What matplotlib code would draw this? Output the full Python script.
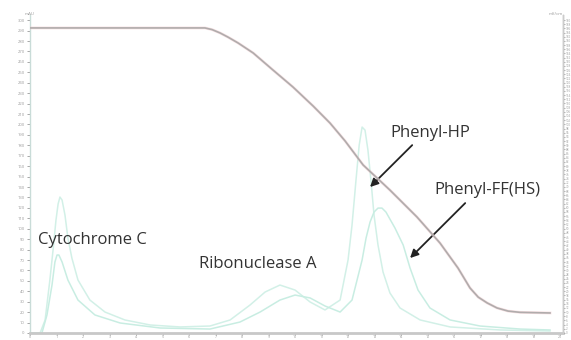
import matplotlib
matplotlib.use("Agg")
import matplotlib.pyplot as plt
import numpy as np

plt.rcParams['font.family'] = ['Open Sans', 'DejaVu Sans']

# Elution volume (mL) and UV absorbance (mAU) for the two runs
hp_volume = [0.00, 0.38, 0.57, 0.75, 0.87, 0.98, 1.06, 1.13, 1.21, 1.32, 1.43, 1.58,
             1.81, 2.26, 2.83, 3.58, 4.53, 5.66, 6.79, 7.55, 8.30, 8.87, 9.43,
             10.00, 10.57, 11.13, 11.70, 12.00, 12.15, 12.30, 12.42, 12.53, 12.64,
             12.75, 12.87, 12.98, 13.13, 13.32, 13.58, 13.96, 14.72, 15.85,
             17.74, 19.62]
hp_uv = [0, 0, 12.5, 50.8, 79.6, 108.3, 123.7, 130.4, 127.5, 113.1, 91.1, 71.9,
         50.8, 31.6, 20.1, 12.5, 7.7, 5.8, 6.7, 12.5, 26.8, 39.3, 46.0,
         41.2, 29.7, 22.1, 31.6, 70.0, 103.5, 146.7, 180.2, 197.5, 194.6,
         175.5, 144.8, 113.1, 84.4, 58.5, 38.4, 24.0, 12.5, 5.8,
         2.9, 1.9]

ff_volume = [0.00, 0.45, 0.64, 0.83, 0.94, 1.02, 1.09, 1.21, 1.43, 1.81, 2.45,
             3.40, 4.91, 6.79, 7.92, 8.68, 9.43, 10.00, 10.57, 11.13, 11.70,
             12.15, 12.53, 12.68, 12.83, 12.98, 13.13, 13.28, 13.43, 13.77,
             14.08, 14.34, 14.64, 15.09, 15.85, 16.98, 18.49, 19.62]
ff_uv = [0, 0, 17.3, 46.0, 68.1, 74.8, 74.8, 68.1, 50.8, 31.6, 17.3,
         9.6, 4.8, 3.8, 10.5, 20.1, 31.6, 36.4, 33.6, 25.9, 20.1,
         31.6, 70.0, 91.1, 106.4, 116.0, 119.8, 119.8, 116.0, 100.7,
         84.4, 62.3, 41.2, 24.0, 12.5, 6.7, 3.8, 2.9]

# Conductivity gradient (mS/cm)
grad_volume = [0.00, 6.60, 6.87, 7.17, 7.47, 7.85, 8.42, 9.17, 9.92, 10.68, 11.32,
               11.89, 12.57, 13.58, 14.60, 15.47, 16.15, 16.60, 16.91, 17.25,
               17.62, 18.04, 18.49, 19.62]
grad_cond = [146.2, 146.2, 145.4, 143.8, 141.8, 139.0, 134.2, 126.0, 117.9, 108.8,
             100.6, 92.0, 80.5, 68.5, 55.6, 43.1, 31.1, 21.6, 17.2, 14.4,
             12.0, 10.5, 9.9, 9.6]

peak_labels = ["Cytochrome C", "Ribonuclease A", "Phenyl-HP", "Phenyl-FF(HS)"]

fig = plt.figure(figsize=(5.71, 3.40), dpi=100)
ax = fig.add_axes([30/571, 7/340, 533/571, 318/340])
ax2 = ax.twinx()

ax.set_xlim(0, 20.11)
ax.set_ylim(0, 305)
ax2.set_ylim(0, 152.4)

ax.plot(hp_volume, hp_uv, color="#d2f0e7", lw=1.1, zorder=2,
        solid_joinstyle="round")
ax.plot(ff_volume, ff_uv, color="#c8ede2", lw=1.1, zorder=2,
        solid_joinstyle="round")

ax2.plot(grad_volume, grad_cond, color="#f0c4c8", lw=2.0, alpha=0.5, zorder=3,
         solid_joinstyle="round")
ax2.plot(grad_volume, grad_cond, color="#b0acac", lw=1.2, zorder=4,
         solid_joinstyle="round")

# Ticks
ax.set_xticks(np.arange(0, 21, 1))
ax.set_xticklabels([str(v) for v in range(0, 21)])
ax.set_yticks(np.arange(0, 301, 10))
ax.set_yticklabels([str(v) for v in range(0, 301, 10)])
ax2.set_yticks(np.arange(0, 151, 2))
ax2.set_yticklabels([str(v) for v in range(0, 151, 2)])

ax.tick_params(axis='y', labelsize=3.0, colors="#9a9a9a", length=2.5,
               width=0.6, pad=1.5)
ax.tick_params(axis='x', labelsize=2.6, colors="#9a9a9a", length=1.2,
               width=0.6, pad=0.3)
ax2.tick_params(axis='y', labelsize=2.2, colors="#9a9a9a", length=1.5,
                width=0.5, pad=0.4)

for a in (ax, ax2):
    a.spines["top"].set_visible(False)
ax.spines["left"].set_color("#c9dcd8")
ax.spines["left"].set_linewidth(1.0)
ax.spines["bottom"].set_color("#c8c8c8")
ax.spines["bottom"].set_linewidth(2.0)
ax2.spines["right"].set_color("#cccccc")
ax2.spines["right"].set_linewidth(1.0)
ax2.spines["left"].set_visible(False)
ax2.spines["bottom"].set_visible(False)

fig.text(30/571, 1 - 14/340, "mAU", fontsize=3.2, color="#9a9a9a", ha="center", va="center")
fig.text(556/571, 1 - 14/340, "mS/cm", fontsize=3.2, color="#9a9a9a", ha="center", va="center")

txt = dict(fontsize=12, color="#333333", ha="center", va="center", zorder=6)
ax.text(2.34, 89.2, peak_labels[0], **txt)
ax.text(8.6, 66.2, peak_labels[1], **txt)
ax.text(15.09, 191.8, peak_labels[2], **txt)
ax.text(17.25, 137.1, peak_labels[3], **txt)

arrow = dict(arrowstyle="-|>", color="#222222", lw=1.3, mutation_scale=12,
             shrinkA=0, shrinkB=0)
ax.annotate("", xy=(12.83, 140.0), xytext=(14.42, 180.2), arrowprops=arrow, zorder=6)
ax.annotate("", xy=(14.34, 71.9), xytext=(16.42, 124.6), arrowprops=arrow, zorder=6)

fig.savefig("out.png", dpi=100)
